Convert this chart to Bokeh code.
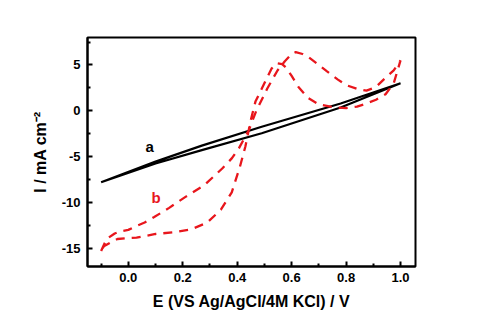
from bokeh.plotting import figure
from bokeh.models import Range1d, FixedTicker, PrintfTickFormatter
from bokeh.core.properties import value
from bokeh.embed import file_html
from bokeh.resources import INLINE

# Curve a (black solid loop)
a_x = [-0.1, 0.1, 0.27, 0.49, 0.78, 1.0, 0.78, 0.49, 0.27, 0.1, -0.1]
a_y = [-7.8, -5.55, -3.8, -1.75, 0.8, 3.0, 0.35, -2.45, -4.3, -5.75, -7.8]

# Curve b (red dashed CV loop)
b_x = [-0.1, -0.08, -0.05, -0.033, 0.0, 0.028, 0.06, 0.095, 0.15, 0.21, 0.28,
       0.345, 0.38, 0.406, 0.443, 0.47, 0.51, 0.548, 0.575, 0.60, 0.615, 0.64,
       0.66, 0.70, 0.73, 0.77, 0.80, 0.84, 0.875, 0.91, 0.945, 0.975, 1.0,
       0.975, 0.945, 0.91, 0.875, 0.84, 0.80, 0.75, 0.70, 0.66, 0.625, 0.60,
       0.58, 0.565, 0.545, 0.526, 0.49, 0.467, 0.45, 0.43, 0.41, 0.38, 0.34,
       0.29, 0.23, 0.17, 0.10, 0.03, 0.0, -0.04, -0.06, -0.09, -0.1]
b_y = [-15.3, -14.0, -13.4, -13.2, -13.0, -12.6, -12.2, -11.6, -10.6, -9.4, -8.1,
       -6.3, -5.2, -4.1, -2.1, 0.0, 2.4, 4.4, 5.4, 6.2, 6.4, 6.2,
       5.9, 5.0, 4.3, 3.4, 2.8, 2.4, 2.2, 2.6, 3.6, 4.4, 5.5,
       3.0, 1.8, 1.2, 0.8, 0.45, 0.3, 0.4, 0.7, 1.4, 2.6, 3.8,
       4.7, 5.1, 5.2, 4.6, 2.4, 1.0, -1.0, -3.9, -6.1, -8.9, -10.8,
       -12.2, -12.95, -13.25, -13.45, -13.85, -13.9, -14.0, -14.3, -14.8, -15.3]

x_ticks = [0.0, 0.2, 0.4, 0.6, 0.8, 1.0]
x_minor = [-0.1, 0.1, 0.3, 0.5, 0.7, 0.9]
y_ticks = [-15, -10, -5, 0, 5]
y_minor = [-12.5, -7.5, -2.5, 2.5, 7.5]

labels_text = ["a", "b"]
labels_x = [0.078, 0.102]
labels_y = [-3.85, -9.5]
labels_color = ["black", "#e8161c"]

RED = "#e8161c"
FONT = "Liberation Sans"

p = figure(width=473, height=312, output_backend="svg", toolbar_location=None,
           x_range=Range1d(-0.15, 1.055), y_range=Range1d(-17, 8),
           min_border_left=87, min_border_right=58, min_border_top=37,
           min_border_bottom=45)

p.grid.visible = False
p.outline_line_color = "black"
p.outline_line_width = 2
p.background_fill_color = "white"
p.border_fill_color = "white"

p.line(a_x, a_y, line_color="black", line_width=2.2)
p.line(b_x, b_y, line_color=RED, line_width=2.3, line_dash="9 7")

for t, x, y, c in zip(labels_text, labels_x, labels_y, labels_color):
    p.text(x=[x], y=[y], text=[t], text_color=c, text_font=value(FONT),
           text_font_size="15px", text_font_style="bold",
           text_align="center", text_baseline="middle")

for ax in (p.xaxis[0], p.yaxis[0]):
    ax.axis_line_width = 2
    ax.axis_line_color = "black"
    ax.major_tick_in = 5
    ax.major_tick_out = 0
    ax.minor_tick_in = 3
    ax.minor_tick_out = 0
    ax.major_tick_line_width = 2
    ax.minor_tick_line_width = 2
    ax.major_label_text_font = FONT
    ax.major_label_text_font_style = "bold"
    ax.major_label_text_font_size = "13px"
    ax.major_label_text_color = "black"
    ax.axis_label_text_font = FONT
    ax.axis_label_text_font_style = "bold"
    ax.axis_label_text_font_size = "16px"
    ax.axis_label_text_color = "black"

p.xaxis.ticker = FixedTicker(ticks=x_ticks, minor_ticks=x_minor)
p.yaxis.ticker = FixedTicker(ticks=y_ticks, minor_ticks=y_minor)
p.xaxis.formatter = PrintfTickFormatter(format="%.1f")
p.yaxis.formatter = PrintfTickFormatter(format="%d")
p.xaxis.major_label_standoff = 6
p.yaxis.major_label_standoff = 7
p.xaxis.axis_label = "E (VS Ag/AgCl/4M KCl) / V"
p.yaxis.axis_label = "I / mA cm\u207b\u00b2"
p.xaxis.axis_label_standoff = 8
p.yaxis.axis_label_standoff = 10

open("out.html", "w").write(file_html(p, INLINE))
